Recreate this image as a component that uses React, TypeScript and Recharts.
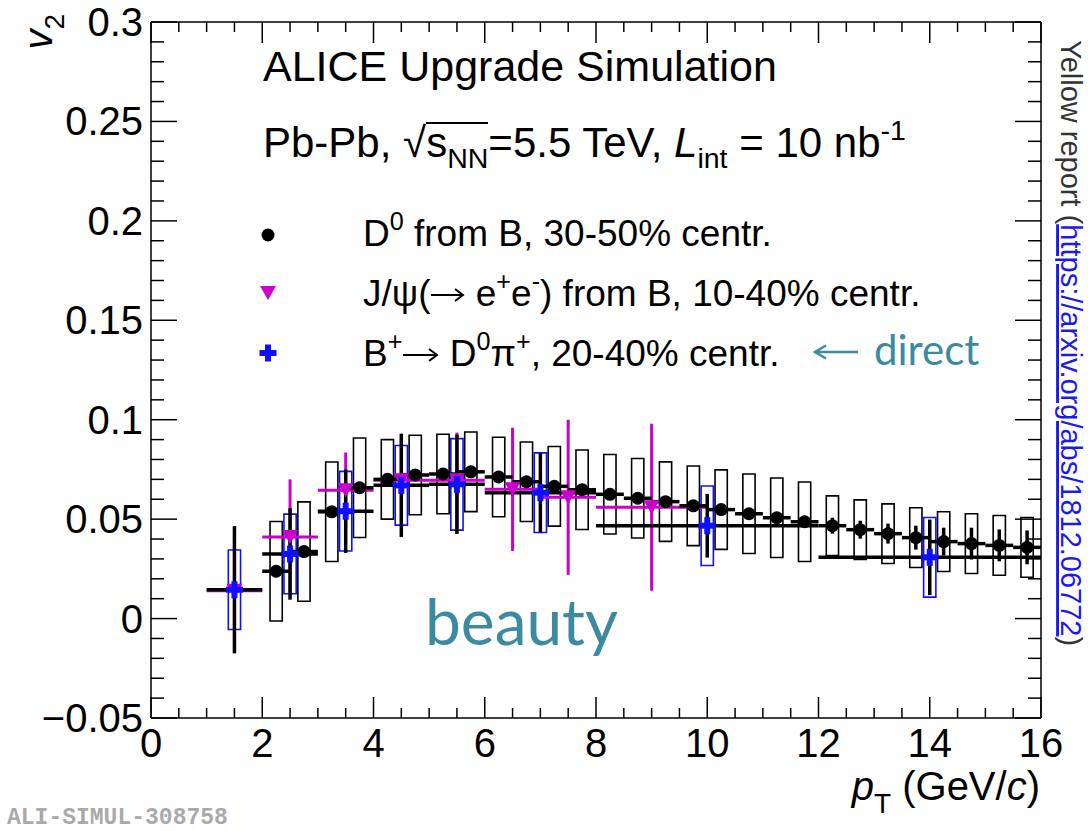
import React from 'react';
import { ComposedChart, Scatter, XAxis, YAxis, ErrorBar, ReferenceArea, Legend } from 'recharts';

// D0 from B, 30-50% centrality
const d0Pt = [2.25, 2.75, 3.25, 3.75, 4.25, 4.75, 5.25, 5.75, 6.25, 6.75, 7.25, 7.75, 8.25, 8.75,
  9.25, 9.75, 10.25, 10.75, 11.25, 11.75, 12.25, 12.75, 13.25, 13.75, 14.25, 14.75, 15.25, 15.75];
const d0V2 = [0.0238, 0.0337, 0.0537, 0.0658, 0.07, 0.0722, 0.0727, 0.0738, 0.0712, 0.0688, 0.0665, 0.0648, 0.0625, 0.0605,
  0.0588, 0.0567, 0.0548, 0.0527, 0.0507, 0.0487, 0.0467, 0.0447, 0.0427, 0.0407, 0.0387, 0.0377, 0.0368, 0.0358];
const d0Stat = [0.003, 0.002, 0.002, 0.002, 0.002, 0.002, 0.002, 0.002, 0.002, 0.002, 0.002, 0.002, 0.002, 0.002,
  0.002, 0.002, 0.002, 0.002, 0.0025, 0.003, 0.004, 0.0045, 0.005, 0.006, 0.007, 0.008, 0.008, 0.0085];
const d0Syst = [0.025, 0.025, 0.025, 0.025, 0.02, 0.02, 0.02, 0.02, 0.02, 0.02, 0.02, 0.02, 0.02, 0.02,
  0.02, 0.02, 0.02, 0.02, 0.02, 0.02, 0.015, 0.015, 0.015, 0.015, 0.015, 0.015, 0.015, 0.015];
const d0HalfBin = 0.25;

// J/psi from B, 10-40% centrality
const jpsiPt = [1.5, 2.5, 3.5, 4.5, 5.5, 6.5, 7.5, 9];
const jpsiHalfBin = [0.5, 0.5, 0.5, 0.5, 0.5, 0.5, 0.5, 1];
const jpsiV2 = [0.014, 0.041, 0.0645, 0.0695, 0.0695, 0.065, 0.061, 0.056];
const jpsiStat = [0.025, 0.029, 0.019, 0.021, 0.024, 0.031, 0.039, 0.042];

// B+ -> D0 pi+, 20-40% centrality
const bPt = [1.5, 2.5, 3.5, 4.5, 5.5, 7, 10, 14];
const bHalfBin = [0.5, 0.5, 0.5, 0.5, 0.5, 1, 2, 2];
const bV2 = [0.0145, 0.0325, 0.054, 0.067, 0.0675, 0.0633, 0.0467, 0.0308];
const bStat = [0.032, 0.023, 0.021, 0.026, 0.025, 0.02, 0.016, 0.019];
const bSyst = [0.02, 0.02, 0.02, 0.02, 0.023, 0.02, 0.02, 0.02];

const boxHalfWidth = 0.11;

const xMajor = [0, 2, 4, 6, 8, 10, 12, 14, 16];
const yMajor = [-0.05, 0, 0.05, 0.1, 0.15, 0.2, 0.25, 0.3];
const yMajorLabels = ['\u22120.05', '0', '0.05', '0.1', '0.15', '0.2', '0.25', '0.3'];

const xTicks: number[] = [];
for (let i = 0; i <= 32; i++) xTicks.push(i / 2);
const yTicks: number[] = [];
for (let i = -5; i <= 30; i++) yTicks.push(i / 100);

const W = 1088;
const H = 831;
const FONT = '"Liberation Sans", Arial, Helvetica, sans-serif';
const TEAL = '#3b8aa0';
const MAGENTA = '#cc00cc';
const BLUE = '#1010ff';
const axisStyle = { stroke: '#000', strokeWidth: 1.5 };

const near = (a: number, b: number) => Math.abs(a - b) < 1e-6;
const xIsMajor = (v: number) => xMajor.some((m) => near(m, v));
const yLabel = (v: number) => {
  const i = yMajor.findIndex((m) => near(m, v));
  return i >= 0 ? yMajorLabels[i] : null;
};

const BottomTick = ({ x, y, payload }: any) => {
  const major = xIsMajor(payload.value);
  return (
    <g>
      <line x1={x} x2={x} y1={y} y2={y - (major ? 21 : 10)} stroke="#000" strokeWidth={1.5} />
      {major && (
        <text x={x} y={y + 39} textAnchor="middle" fontFamily={FONT} fontSize={40} fill="#000">
          {String(payload.value)}
        </text>
      )}
    </g>
  );
};

const TopTick = ({ x, y, payload }: any) => {
  const major = xIsMajor(payload.value);
  return <line x1={x} x2={x} y1={y} y2={y + (major ? 21 : 10)} stroke="#000" strokeWidth={1.5} />;
};

const LeftTick = ({ x, y, payload }: any) => {
  const label = yLabel(payload.value);
  return (
    <g>
      <line x1={x} x2={x + (label ? 26 : 13)} y1={y} y2={y} stroke="#000" strokeWidth={1.5} />
      {label && (
        <text x={x - 8} y={y + 14} textAnchor="end" fontFamily={FONT} fontSize={40} fill="#000">
          {label}
        </text>
      )}
    </g>
  );
};

const RightTick = ({ x, y, payload }: any) => {
  const major = yLabel(payload.value) !== null;
  return <line x1={x} x2={x - (major ? 26 : 13)} y1={y} y2={y} stroke="#000" strokeWidth={1.5} />;
};

const Dot = ({ cx, cy }: any) => <circle cx={cx} cy={cy} r={6.5} fill="#000" />;
const TriangleDown = ({ cx, cy }: any) => (
  <polygon points={`${cx - 8},${cy - 7} ${cx + 8},${cy - 7} ${cx},${cy + 7}`} fill={MAGENTA} />
);
const Cross = ({ cx, cy }: any) => (
  <g fill={BLUE}>
    <rect x={cx - 8.5} y={cy - 3} width={17} height={6} />
    <rect x={cx - 3} y={cy - 8.5} width={6} height={17} />
  </g>
);

const sup = (s: string) => (
  <span style={{ fontSize: '0.68em', position: 'relative', top: '-0.62em' }}>{s}</span>
);
const sub = (s: string) => (
  <span style={{ fontSize: '0.68em', position: 'relative', top: '0.36em' }}>{s}</span>
);

// long thin right arrow used inside the legend text
const RightArrow = ({ w = 36 }: any) => (
  <svg width={w} height={22} style={{ display: 'inline-block', verticalAlign: 'baseline' }}>
    <line x1={1} y1={11} x2={w - 2} y2={11} stroke="#000" strokeWidth={2} />
    <polyline points={`${w - 10},5 ${w - 2},11 ${w - 10},17`} fill="none" stroke="#000" strokeWidth={2} />
  </svg>
);

// text placed by its baseline; ratio = baseline position inside a line box of 1em
const Txt = ({ left, base, size, family = FONT, ratio = 0.8465, color = '#000', children, style }: any) => (
  <div
    style={{
      position: 'absolute',
      left,
      top: base - ratio * size,
      fontSize: size,
      lineHeight: `${size}px`,
      fontFamily: family,
      color,
      whiteSpace: 'nowrap',
      ...style,
    }}
  >
    {children}
  </div>
);

const Marker = ({ x, y, children }: any) => (
  <svg style={{ position: 'absolute', left: x - 12, top: y - 12 }} width={24} height={24}>
    {children}
  </svg>
);

const LegendBox = () => (
  <div style={{ position: 'relative', width: W, height: H }}>
    <Marker x={268} y={235}>
      <Dot cx={12} cy={12} />
    </Marker>
    <Txt left={363} base={246} size={37}>
      D{sup('0')} from B, 30-50% centr.
    </Txt>
    <Marker x={268} y={293}>
      <TriangleDown cx={12} cy={12} />
    </Marker>
    <Txt left={363} base={306} size={37}>
      J/ψ(<RightArrow w={35} /> e{sup('+')}e{sup('-')}) from B, 10-40% centr.
    </Txt>
    <Marker x={268} y={353}>
      <Cross cx={12} cy={12} />
    </Marker>
    <Txt left={363} base={366} size={37}>
      B{sup('+')}<RightArrow w={37} /> D{sup('0')}π{sup('+')}, 20-40% centr.
    </Txt>
  </div>
);

export default function App() {
  const d0Data = d0Pt.map((x, i) => ({ x, y: d0V2[i], ex: d0HalfBin, ey: d0Stat[i] }));
  const jpsiData = jpsiPt.map((x, i) => ({ x, y: jpsiV2[i], ex: jpsiHalfBin[i], ey: jpsiStat[i] }));
  const bData = bPt.map((x, i) => ({ x, y: bV2[i], ex: bHalfBin[i], ey: bStat[i] }));

  return (
    <div style={{ position: 'absolute', left: 0, top: 0, width: W, height: H, overflow: 'hidden', background: '#fff' }}>
      <ComposedChart width={W} height={H} margin={{ top: 12, right: 37, bottom: 53, left: 51 }}>
        <XAxis
          type="number"
          dataKey="x"
          domain={[0, 16]}
          ticks={xTicks}
          interval={0}
          tickSize={0}
          tickMargin={0}
          tick={BottomTick}
          tickLine={false}
          axisLine={axisStyle}
          height={60}
          allowDataOverflow
        />
        <XAxis
          xAxisId="top"
          orientation="top"
          type="number"
          dataKey="x"
          domain={[0, 16]}
          ticks={xTicks}
          interval={0}
          tickSize={0}
          tickMargin={0}
          tick={TopTick}
          tickLine={false}
          axisLine={axisStyle}
          height={10}
          allowDataOverflow
        />
        <YAxis
          type="number"
          dataKey="y"
          domain={[-0.05, 0.3]}
          ticks={yTicks}
          interval={0}
          tickSize={0}
          tickMargin={0}
          tick={LeftTick}
          tickLine={false}
          axisLine={axisStyle}
          width={100}
          allowDataOverflow
        />
        <YAxis
          yAxisId="right"
          orientation="right"
          type="number"
          dataKey="y"
          domain={[-0.05, 0.3]}
          ticks={yTicks}
          interval={0}
          tickSize={0}
          tickMargin={0}
          tick={RightTick}
          tickLine={false}
          axisLine={axisStyle}
          width={10}
          allowDataOverflow
        />

        {d0Pt.map((x, i) => (
          <ReferenceArea
            key={`d0box${i}`}
            x1={x - boxHalfWidth}
            x2={x + boxHalfWidth}
            y1={d0V2[i] - d0Syst[i]}
            y2={d0V2[i] + d0Syst[i]}
            fill="none"
            stroke="#000"
            strokeWidth={1.6}
          />
        ))}
        {bPt.map((x, i) => (
          <ReferenceArea
            key={`bbox${i}`}
            x1={x - boxHalfWidth}
            x2={x + boxHalfWidth}
            y1={bV2[i] - bSyst[i]}
            y2={bV2[i] + bSyst[i]}
            fill="none"
            stroke={BLUE}
            strokeWidth={1.6}
          />
        ))}

        <Scatter name="jpsi" data={jpsiData} shape={TriangleDown} isAnimationActive={false}>
          <ErrorBar dataKey="ex" direction="x" width={0} stroke={MAGENTA} strokeWidth={3} isAnimationActive={false} />
          <ErrorBar dataKey="ey" direction="y" width={0} stroke={MAGENTA} strokeWidth={3} isAnimationActive={false} />
        </Scatter>
        <Scatter name="d0" data={d0Data} shape={Dot} isAnimationActive={false}>
          <ErrorBar dataKey="ex" direction="x" width={0} stroke="#000" strokeWidth={3.5} isAnimationActive={false} />
          <ErrorBar dataKey="ey" direction="y" width={0} stroke="#000" strokeWidth={3.5} isAnimationActive={false} />
        </Scatter>
        <Scatter name="bplus" data={bData} shape={Cross} isAnimationActive={false}>
          <ErrorBar dataKey="ex" direction="x" width={0} stroke="#000" strokeWidth={3.5} isAnimationActive={false} />
          <ErrorBar dataKey="ey" direction="y" width={0} stroke="#000" strokeWidth={3.5} isAnimationActive={false} />
        </Scatter>

        <Legend
          layout="vertical"
          align="center"
          verticalAlign="middle"
          content={LegendBox}
          wrapperStyle={{ left: 0, top: 0, width: W, height: H, pointerEvents: 'none' }}
        />
      </ComposedChart>

      {/* annotations */}
      <Txt left={263} base={81} size={43}>ALICE Upgrade Simulation</Txt>
      <Txt left={263} base={158} size={42}>
        Pb-Pb, √
        <span style={{ display: 'inline-block', lineHeight: '0.9em', borderTop: '2px solid #000' }}>
          s{sub('NN')}
        </span>
        =5.5 TeV, <i>L</i>{sub('int')} = 10 nb{sup('-1')}
      </Txt>
      <Txt left={874} base={365} size={42} family="Lato, sans-serif" ratio={0.887} color={TEAL}>
        direct
      </Txt>
      <Txt left={425} base={646} size={64} family="Lato, sans-serif" ratio={0.887} color={TEAL}>
        beauty
      </Txt>
      <Txt left={7} base={825} size={23} family='"Liberation Mono", monospace' ratio={0.7665} color="#aaa" style={{ fontWeight: 'bold' }}>
        ALI-SIMUL-308758
      </Txt>

      <svg style={{ position: 'absolute', left: 0, top: 0 }} width={W} height={H}>
        <g stroke={TEAL} strokeWidth={2.5} fill="none">
          <line x1={815} y1={352} x2={858} y2={352} />
          <polyline points="826,345.5 815,352 826,358.5" />
        </g>
        <text x={1040} y={800} textAnchor="end" fontFamily={FONT} fontSize={40} fill="#000">
          <tspan fontStyle="italic">p</tspan>
          <tspan dy={13} fontSize={28}>T</tspan>
          <tspan dy={-13}> (GeV/</tspan>
          <tspan fontStyle="italic">c</tspan>
          <tspan>)</tspan>
        </text>
        <text transform="rotate(-90 52 14)" x={52} y={14} textAnchor="end" fontFamily={FONT} fontSize={40} fill="#000">
          <tspan fontStyle="italic">v</tspan>
          <tspan dy={12} fontSize={28}>2</tspan>
        </text>
        <text transform="rotate(90 1061 40)" x={1061} y={40} fontFamily={FONT} fontSize={29} fill="#333">
          <tspan>Yellow report (</tspan>
          <tspan fill="#1a1aee" textDecoration="underline">https://arxiv.org/abs/1812.06772</tspan>
          <tspan>)</tspan>
        </text>
      </svg>
    </div>
  );
}
